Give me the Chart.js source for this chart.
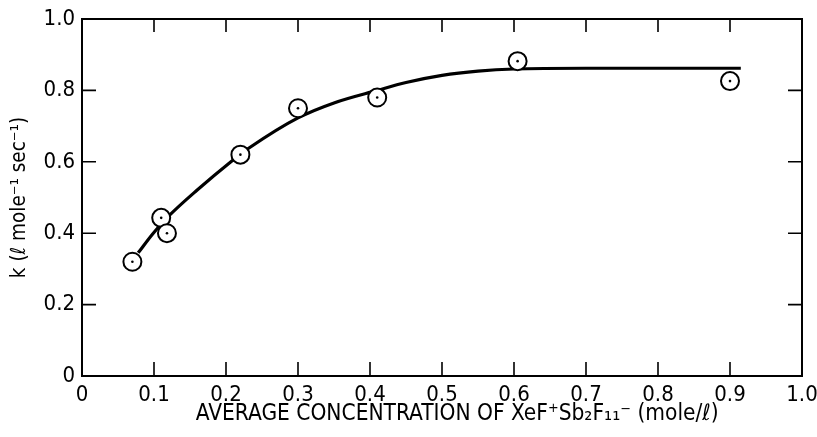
<!DOCTYPE html>
<html>
<head>
<meta charset="utf-8">
<script src="https://cdn.jsdelivr.net/npm/chart.js@4.4.1/dist/chart.umd.min.js"></script>
<style>
html,body{margin:0;padding:0;background:#fff;}
#wrap{width:817px;height:437px;position:relative;}
</style>
</head>
<body>
<div id="wrap"><canvas id="c" width="817" height="437"></canvas></div>
<script>
// Measured points
const concX = [0.07, 0.11, 0.118, 0.22, 0.30, 0.41, 0.605, 0.90];
const rateK = [0.32, 0.443, 0.40, 0.62, 0.75, 0.78, 0.882, 0.826];
// Fitted curve as drawn
const curveX = [0.078, 0.099, 0.122, 0.160, 0.206, 0.221, 0.233, 0.30, 0.35, 0.41, 0.45, 0.50, 0.55, 0.60, 0.70, 0.80, 0.915];
const curveK = [0.345, 0.40, 0.451, 0.521, 0.599, 0.622, 0.640, 0.723, 0.765, 0.80, 0.822, 0.842, 0.854, 0.860, 0.862, 0.862, 0.862];
const xTickLabels = ["0", "0.1", "0.2", "0.3", "0.4", "0.5", "0.6", "0.7", "0.8", "0.9", "1.0"];
const yTickLabels = ["0", "0.2", "0.4", "0.6", "0.8", "1.0"];
const xTitle = "\u2003\u2002AVERAGE CONCENTRATION OF XeF\u207ASb\u2082F\u2081\u2081\u207B (mole/\u2113)";
const yTitle = "k (\u2113 mole\u207B\u00B9 sec\u207B\u00B9)";

const FONT = "'Liberation Sans Narrow', 'DejaVu Sans Condensed', 'Liberation Sans', sans-serif";

const frameTicks = {
  id: 'frameTicks',
  afterDatasetsDraw(chart) {
    const {ctx, chartArea: a, scales} = chart;
    ctx.save();
    ctx.strokeStyle = '#000';
    ctx.lineWidth = 2;
    ctx.strokeRect(a.left, a.top, a.right - a.left, a.bottom - a.top);
    ctx.lineWidth = 1.6;
    const L = 14;
    for (let i = 1; i < xTickLabels.length - 1; i++) {
      const px = scales.x.getPixelForValue(i / 10);
      ctx.beginPath();
      ctx.moveTo(px, a.bottom); ctx.lineTo(px, a.bottom - L);
      ctx.moveTo(px, a.top); ctx.lineTo(px, a.top + L - 1);
      ctx.stroke();
    }
    for (let i = 1; i < yTickLabels.length - 1; i++) {
      const py = scales.y.getPixelForValue(i / 5);
      ctx.beginPath();
      ctx.moveTo(a.left, py); ctx.lineTo(a.left + L, py);
      ctx.moveTo(a.right, py); ctx.lineTo(a.right - L, py);
      ctx.stroke();
    }
    ctx.restore();
  }
};

new Chart(document.getElementById('c'), {
  type: 'scatter',
  data: {
    datasets: [
      {
        label: 'dots',
        data: concX.map((x, i) => ({x, y: rateK[i]})),
        pointRadius: 1.3,
        pointBackgroundColor: '#000',
        pointBorderWidth: 0,
        showLine: false,
        order: 1
      },
      {
        label: 'measured',
        data: concX.map((x, i) => ({x, y: rateK[i]})),
        pointRadius: 9,
        pointBackgroundColor: '#fff',
        pointBorderColor: '#000',
        pointBorderWidth: 2,
        showLine: false,
        order: 2
      },
      {
        label: 'curve',
        data: curveX.map((x, i) => ({x, y: curveK[i]})),
        showLine: true,
        borderColor: '#000',
        borderWidth: 3.2,
        pointRadius: 0,
        cubicInterpolationMode: 'monotone',
        order: 3
      }
    ]
  },
  options: {
    responsive: false,
    animation: false,
    devicePixelRatio: 1,
    layout: {padding: {left: 0, right: 15, top: 19, bottom: 0}},
    plugins: {legend: {display: false}, tooltip: {enabled: false}},
    scales: {
      x: {
        type: 'linear', min: 0, max: 1.0,
        afterFit(s) { s.height = 61; s.paddingLeft = 0; s.paddingRight = 0; },
        grid: {display: false, drawTicks: false},
        border: {display: false},
        ticks: {
          stepSize: 0.1, padding: 6, color: '#000', maxRotation: 0, autoSkip: false,
          font: {family: FONT, size: 22},
          callback: (v, i) => xTickLabels[i]
        },
        title: {display: true, text: xTitle, color: '#000', padding: {top: 0, bottom: 9},
          font: {family: FONT, size: 22.5}}
      },
      y: {
        type: 'linear', min: 0, max: 1.0,
        afterFit(s) { s.width = 82; s.paddingTop = 0; s.paddingBottom = 0; },
        grid: {display: false, drawTicks: false},
        border: {display: false},
        ticks: {
          stepSize: 0.2, padding: 7, color: '#000',
          font: {family: FONT, size: 22},
          callback: (v, i) => yTickLabels[i]
        },
        title: {display: true, text: yTitle, color: '#000', padding: {top: 7, bottom: 2},
          font: {family: FONT, size: 20.5}}
      }
    }
  },
  plugins: [frameTicks]
});
</script>
</body>
</html>
